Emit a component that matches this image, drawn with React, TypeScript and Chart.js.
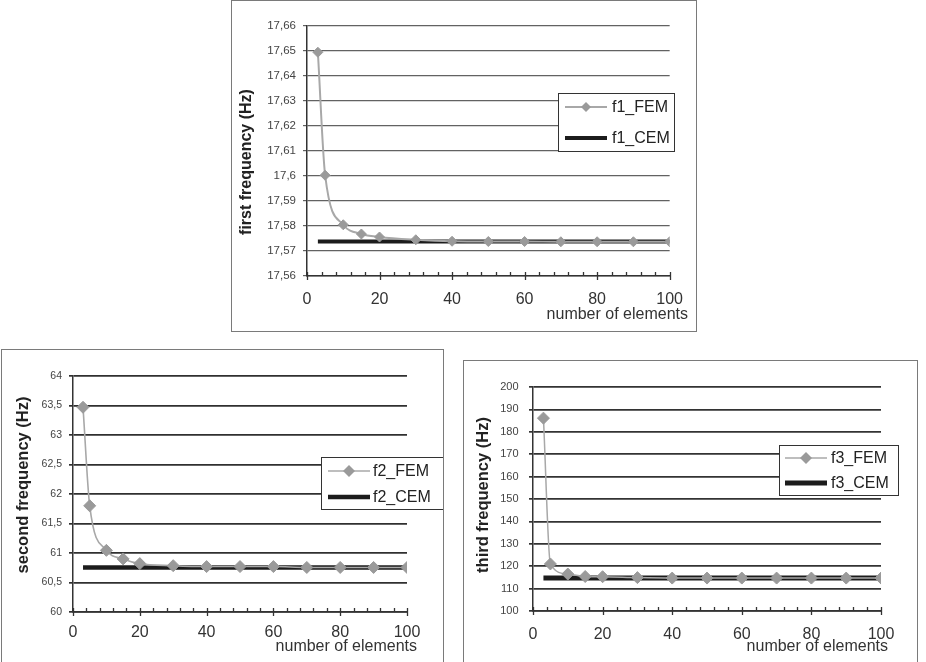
import { useEffect, useRef } from "react";
import { Chart, registerables } from "chart.js";

Chart.register(...registerables);

// Number of finite elements used for each FEM run
const elements = [3, 5, 10, 15, 20, 30, 40, 50, 60, 70, 80, 90, 100];

// First natural frequency (Hz)
const f1Fem = [17.6495, 17.6003, 17.5805, 17.5768, 17.5756, 17.5745, 17.5739, 17.5738, 17.5738, 17.5737, 17.5737, 17.5737, 17.5737];
const f1Cem = [17.5738, 17.5738, 17.5738, 17.5738, 17.5738, 17.5738, 17.5738, 17.5738, 17.5738, 17.5738, 17.5738, 17.5738, 17.5738];

// Second natural frequency (Hz)
const f2Fem = [63.47, 61.8, 61.045, 60.9, 60.82, 60.785, 60.77, 60.77, 60.77, 60.755, 60.755, 60.755, 60.755];
const f2Cem = [60.755, 60.755, 60.755, 60.755, 60.755, 60.755, 60.755, 60.755, 60.755, 60.755, 60.755, 60.755, 60.755];

// Third natural frequency (Hz)
const f3Fem = [186.1, 121.0, 116.5, 115.4, 115.3, 114.9, 114.7, 114.7, 114.7, 114.7, 114.7, 114.7, 114.7];
const f3Cem = [114.7, 114.7, 114.7, 114.7, 114.7, 114.7, 114.7, 114.7, 114.7, 114.7, 114.7, 114.7, 114.7];

// Axis tick values
const xTicks = [0, 20, 40, 60, 80, 100];
const f1Ticks = [17.56, 17.57, 17.58, 17.59, 17.6, 17.61, 17.62, 17.63, 17.64, 17.65, 17.66];
const f2Ticks = [60, 60.5, 61, 61.5, 62, 62.5, 63, 63.5, 64];
const f3Ticks = [100, 110, 120, 130, 140, 150, 160, 170, 180, 190, 200];

const FONT = '"Liberation Sans", Arial, Helvetica, sans-serif';

const decimalComma = (v: number) => String(+v.toFixed(3)).replace(".", ",");

// Draws x-axis tick marks, axis captions and the boxed legend inside the plot
const panelDecor = {
  id: "panelDecor",
  afterDraw(chart: any, _args: any, opts: any) {
    const { ctx, chartArea } = chart;
    const x = chart.scales.x;
    ctx.save();

    // minor / major tick marks on the x axis
    ctx.strokeStyle = opts.axisColor;
    ctx.lineWidth = 1.3;
    for (let v = x.min; v <= x.max + 1e-9; v += opts.minorStep) {
      const px = Math.round(x.getPixelForValue(v)) + 0.5;
      const major = Math.abs(v / opts.majorStep - Math.round(v / opts.majorStep)) < 1e-9;
      ctx.beginPath();
      ctx.moveTo(px, chartArea.bottom - (major ? 4 : 4));
      ctx.lineTo(px, chartArea.bottom + (major ? 4 : 0));
      ctx.stroke();
    }

    // axis captions
    ctx.fillStyle = "#222";
    ctx.font = `bold ${opts.yTitle.size}px ${FONT}`;
    ctx.textAlign = "center";
    ctx.textBaseline = "middle";
    ctx.save();
    ctx.translate(opts.yTitle.x, opts.yTitle.y);
    ctx.rotate(-Math.PI / 2);
    ctx.fillText(opts.yTitle.text, 0, 0);
    ctx.restore();

    ctx.fillStyle = "#333";
    ctx.font = `16px ${FONT}`;
    ctx.textAlign = "right";
    ctx.fillText(opts.xTitle.text, opts.xTitle.right, opts.xTitle.y);

    // legend
    const lg = opts.legend;
    ctx.fillStyle = "#fff";
    ctx.fillRect(lg.x, lg.y, lg.w, lg.h);
    ctx.strokeStyle = "#333";
    ctx.lineWidth = 1;
    ctx.strokeRect(lg.x + 0.5, lg.y + 0.5, lg.w - 1, lg.h - 1);
    ctx.font = `16px ${FONT}`;
    ctx.textAlign = "left";
    ctx.textBaseline = "middle";
    chart.data.datasets.forEach((ds: any, i: number) => {
      const cy = lg.y + lg.rows[i];
      const x0 = lg.x + lg.lineStart;
      const x1 = x0 + lg.lineLen;
      ctx.strokeStyle = ds.borderColor;
      ctx.lineWidth = ds.borderWidth;
      ctx.beginPath();
      ctx.moveTo(x0, cy);
      ctx.lineTo(x1, cy);
      ctx.stroke();
      if (ds.pointRadius > 0) {
        const r = ds.pointRadius;
        const cx = (x0 + x1) / 2;
        ctx.fillStyle = ds.pointBackgroundColor;
        ctx.beginPath();
        ctx.moveTo(cx, cy - r);
        ctx.lineTo(cx + r, cy);
        ctx.lineTo(cx, cy + r);
        ctx.lineTo(cx - r, cy);
        ctx.closePath();
        ctx.fill();
      }
      ctx.fillStyle = "#222";
      ctx.fillText(ds.label, lg.x + lg.textStart, cy + 1);
    });
    ctx.restore();
  },
};

type Spec = {
  box: { left: number; top: number; width: number; height: number };
  padTop: number;
  padRight: number;
  yWidth: number;
  xHeight: number;
  xPad: number;
  yPad: number;
  yFont: number;
  yMin: number;
  yMax: number;
  yTicks: number[];
  fem: number[];
  cem: number[];
  femLabel: string;
  cemLabel: string;
  femWidth: number;
  marker: number;
  cemWidth: number;
  gridColor: string;
  gridWidth: number;
  yTitle: { text: string; x: number; y: number; size: number };
  xTitle: { text: string; right: number; y: number };
  legend: { x: number; y: number; w: number; h: number; rows: number[]; lineStart: number; lineLen: number; textStart: number };
};

const panels: Spec[] = [
  {
    box: { left: 231, top: 0, width: 466, height: 332 },
    padTop: 26, padRight: 15, yWidth: 76, xHeight: 56, xPad: 14, yPad: 7, yFont: 11.5,
    yMin: 17.56, yMax: 17.66, yTicks: f1Ticks, fem: f1Fem, cem: f1Cem,
    femLabel: "f1_FEM", cemLabel: "f1_CEM", femWidth: 2, marker: 5, cemWidth: 4,
    gridColor: "#626262", gridWidth: 1.2,
    yTitle: { text: "first frequency (Hz)", x: 16, y: 162, size: 16 },
    xTitle: { text: "number of elements", right: 457, y: 315 },
    legend: { x: 327, y: 93, w: 117, h: 59, rows: [14, 45], lineStart: 7, lineLen: 42, textStart: 54 },
  },
  {
    box: { left: 1, top: 349, width: 443, height: 320 },
    padTop: 27, padRight: 37, yWidth: 72, xHeight: 57, xPad: 11, yPad: 7, yFont: 10.5,
    yMin: 60, yMax: 64, yTicks: f2Ticks, fem: f2Fem, cem: f2Cem,
    femLabel: "f2_FEM", cemLabel: "f2_CEM", femWidth: 1.6, marker: 6, cemWidth: 4.5,
    gridColor: "#303030", gridWidth: 1.7,
    yTitle: { text: "second frequency (Hz)", x: 22, y: 136, size: 16.5 },
    xTitle: { text: "number of elements", right: 416, y: 298 },
    legend: { x: 320, y: 108, w: 123, h: 53, rows: [14, 40], lineStart: 7, lineLen: 42, textStart: 52 },
  },
  {
    box: { left: 463, top: 360, width: 455, height: 310 },
    padTop: 27, padRight: 37, yWidth: 70, xHeight: 59, xPad: 14, yPad: 10.5, yFont: 11,
    yMin: 100, yMax: 200, yTicks: f3Ticks, fem: f3Fem, cem: f3Cem,
    femLabel: "f3_FEM", cemLabel: "f3_CEM", femWidth: 1.5, marker: 6, cemWidth: 5,
    gridColor: "#333333", gridWidth: 1.7,
    yTitle: { text: "third frequency (Hz)", x: 20, y: 135, size: 16.5 },
    xTitle: { text: "number of elements", right: 425, y: 287 },
    legend: { x: 316, y: 85, w: 120, h: 51, rows: [13, 38], lineStart: 6, lineLen: 42, textStart: 52 },
  },
];

function Panel({ spec }: { spec: Spec }) {
  const ref = useRef<HTMLCanvasElement>(null);

  useEffect(() => {
    const canvas = ref.current;
    if (!canvas) return;
    const chart = new Chart(canvas, {
      type: "line",
      data: {
        datasets: [
          {
            label: spec.femLabel,
            data: elements.map((n, i) => ({ x: n, y: spec.fem[i] })),
            borderColor: "#a8a8a8",
            borderWidth: spec.femWidth,
            pointStyle: "rectRot",
            pointRadius: spec.marker,
            pointBackgroundColor: "#9a9a9a",
            pointBorderColor: "#9a9a9a",
            pointBorderWidth: 1,
            cubicInterpolationMode: "monotone",
            fill: false,
          },
          {
            label: spec.cemLabel,
            data: elements.map((n, i) => ({ x: n, y: spec.cem[i] })),
            borderColor: "#1c1c1c",
            borderWidth: spec.cemWidth,
            pointRadius: 0,
            fill: false,
          },
        ],
      } as any,
      options: {
        responsive: false,
        animation: false,
        events: [],
        layout: { padding: { top: spec.padTop, right: spec.padRight, left: 0, bottom: 0 } },
        plugins: {
          legend: { display: false },
          tooltip: { enabled: false },
          panelDecor: {
            axisColor: "#333",
            minorStep: 4,
            majorStep: 20,
            yTitle: spec.yTitle,
            xTitle: spec.xTitle,
            legend: spec.legend,
          },
        } as any,
        scales: {
          x: {
            type: "linear",
            min: 0,
            max: 100,
            afterFit: (s: any) => { s.height = spec.xHeight; },
            afterBuildTicks: (s: any) => { s.ticks = xTicks.map((v) => ({ value: v })); },
            grid: { display: false, drawTicks: false },
            border: { display: true, color: "#333", width: 1.5 },
            ticks: {
              padding: spec.xPad,
              color: "#333",
              font: { size: 16, family: FONT },
              maxRotation: 0,
              autoSkip: false,
            },
          },
          y: {
            type: "linear",
            min: spec.yMin,
            max: spec.yMax,
            afterFit: (s: any) => { s.width = spec.yWidth; },
            afterBuildTicks: (s: any) => { s.ticks = spec.yTicks.map((v) => ({ value: v })); },
            grid: { color: spec.gridColor, lineWidth: spec.gridWidth, drawTicks: true, tickLength: 4 },
            border: { display: true, color: "#333", width: 1.5 },
            ticks: {
              padding: spec.yPad,
              color: "#444",
              font: { size: spec.yFont, family: FONT },
              autoSkip: false,
              callback: (v: any) => decimalComma(Number(v)),
            },
          },
        },
      } as any,
      plugins: [panelDecor],
    });
    return () => chart.destroy();
  }, [spec]);

  const { left, top, width, height } = spec.box;
  return (
    <div style={{ position: "absolute", left, top, width, height }}>
      <canvas ref={ref} width={width} height={height} style={{ display: "block", width, height }} />
      <div
        style={{
          position: "absolute",
          inset: 0,
          border: "1.5px solid #7a7a7a",
          boxSizing: "border-box",
          pointerEvents: "none",
        }}
      />
    </div>
  );
}

export default function App() {
  return (
    <div
      style={{
        position: "absolute",
        left: 0,
        top: 0,
        width: 926,
        height: 662,
        overflow: "hidden",
        background: "#fff",
      }}
    >
      {panels.map((p) => (
        <Panel key={p.femLabel} spec={p} />
      ))}
    </div>
  );
}
